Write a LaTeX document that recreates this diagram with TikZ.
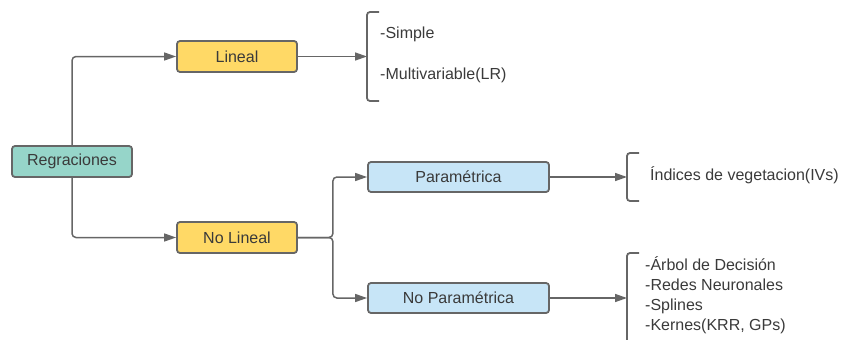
\documentclass[tikz,border=0pt]{standalone}
\usepackage{fontspec}
\setmainfont{Liberation Sans}
\usetikzlibrary{arrows.meta}
\definecolor{lineg}{HTML}{666666}
\definecolor{txtg}{HTML}{3A3A3A}
\definecolor{tealf}{HTML}{96D5C9}
\definecolor{yelf}{HTML}{FFD966}
\definecolor{bluef}{HTML}{C7E5F7}
\tikzset{
  box/.style={draw=lineg, line width=1.8pt, rounded corners=3pt, text=txtg,
    minimum height=31pt, inner sep=0pt, font=\fontsize{16}{19}\selectfont},
  link/.style={draw=lineg, line width=1.5pt, rounded corners=4pt,
    -{Triangle[length=12pt,width=8pt]}},
  lbl/.style={anchor=west, text=txtg, inner sep=0pt, align=left,
    font=\fontsize{16}{20}\selectfont}
}
% bracket: x, top, bottom
\newcommand{\brkt}[3]{
\draw[lineg, line width=1.8pt, rounded corners=3pt](#1+12,#2)--(#1,#2)--(#1,#3)--(#1+12,#3);
}
\begin{document}
\begin{tikzpicture}[x=1pt,y=-1pt]
\useasboundingbox (0,0) rectangle (846,340);

\node[box, fill=tealf, minimum width=120pt] (reg) at (72,161.5) {Regraciones};
\node[box, fill=yelf, minimum width=120pt] (lin) at (237,56.5) {Lineal};
\node[box, fill=yelf, minimum width=120pt] (nlin) at (237,237.5) {No Lineal};
\node[box, fill=bluef, minimum width=181pt, minimum height=30pt] (param) at (458.5,177) {Paramétrica};
\node[box, fill=bluef, minimum width=181pt, minimum height=30pt] (nparam) at (458.5,298) {No Paramétrica};

% brackets
\brkt{367}{12}{101}
\brkt{627}{153}{201}
\draw[lineg, line width=1.8pt, rounded corners=3pt](639,253)--(627,253)--(627,345);

\coordinate (b1) at (367,56.5);
\coordinate (b2) at (627,177);
\coordinate (b3) at (627,298);

\node[lbl] (simple) at (380,34) {-Simple};
\node[lbl] (multi) at (380,75) {-Multivariable(LR)};
\node[lbl] (ivs) at (650,175) {Índices de vegetacion(IVs)};
\node[lbl] (noparlist) at (645,295) {-Árbol de Decisión\\-Redes Neuronales\\-Splines\\-Kernes(KRR, GPs)};

% connectors
\draw[link] (reg.north) |- (lin.west);
\draw[link] (reg.south) |- (nlin.west);
\draw[link] (lin.east) -- (b1);
\draw[link] (nlin.east) -- ++(35,0) |- (param.west);
\draw[link] (nlin.east) -- ++(35,0) |- (nparam.west);
\draw[link] (param.east) -- (b2);
\draw[link] (nparam.east) -- (b3);

\end{tikzpicture}
\end{document}
